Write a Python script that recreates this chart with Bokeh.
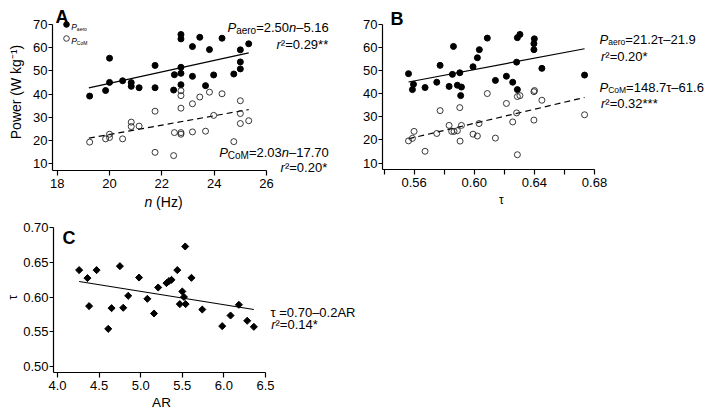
import numpy as np
from bokeh.plotting import figure
from bokeh.layouts import column, row
from bokeh.models import Label, FixedTicker, PrintfTickFormatter, Legend, LegendItem, Range1d
from bokeh.core.properties import value
from bokeh.embed import file_html
from bokeh.resources import INLINE

FONT = "Liberation Sans"

# ---------------- data ----------------
# Panel A: power vs wingbeat frequency n (Hz)
a_n_aero = [19.24, 19.85, 20.0, 20.0, 20.5, 20.83, 20.83, 21.13, 21.74, 21.74,
            22.45, 22.48, 22.73, 22.73, 22.73, 22.73, 22.73, 23.17, 23.17, 23.45,
            23.67, 23.82, 23.98, 24.3, 24.75, 25.0, 25.0, 25.0, 25.32]
a_p_aero = [39.2, 41.6, 55.5, 45.1, 45.8, 45.0, 43.4, 42.8, 52.4, 42.8,
            41.8, 48.4, 65.7, 63.8, 51.6, 49.0, 44.1, 60.5, 47.7, 64.5,
            43.7, 59.2, 48.3, 64.1, 48.7, 59.1, 53.9, 50.9, 61.7]
a_n_com = [19.24, 19.85, 20.0, 20.0, 20.5, 20.83, 20.83, 21.13, 21.74, 21.74,
           22.45, 22.48, 22.73, 22.73, 22.73, 22.73, 22.73, 23.17, 23.17, 23.45,
           23.67, 23.82, 23.98, 24.3, 24.75, 25.0, 25.0, 25.0, 25.32]
a_p_com = [19.4, 20.8, 22.8, 21.4, 20.8, 28.0, 26.1, 26.3, 32.7, 15.0,
           13.6, 23.5, 41.5, 39.4, 34.0, 23.5, 22.8, 35.9, 23.8, 38.8,
           24.1, 40.9, 30.9, 40.2, 19.6, 37.2, 31.7, 27.4, 28.6]
a_fit_n = [19.21, 25.32]
a_fit_aero = [42.7, 57.8]
a_fit_com = [21.1, 33.4]

# Panel B: power vs downstroke fraction tau
b_t_aero = [0.5563, 0.5589, 0.5596, 0.5673, 0.5751, 0.5773, 0.5833, 0.5862, 0.5855, 0.5888,
            0.5904, 0.5915, 0.591, 0.5992, 0.6021, 0.6034, 0.6087, 0.6141, 0.6214, 0.6256,
            0.6282, 0.6287, 0.6287, 0.6304, 0.6397, 0.6397, 0.64, 0.645, 0.6734]
b_p_aero = [48.7, 41.8, 44.1, 42.7, 45.0, 52.3, 43.2, 60.5, 48.4, 43.7,
            49.1, 42.9, 39.2, 51.7, 55.6, 59.1, 64.1, 45.8, 47.6, 45.0,
            53.7, 41.8, 64.3, 65.7, 59.1, 61.7, 63.8, 51.0, 48.1]
b_t_com = [0.5563, 0.5589, 0.56, 0.5673, 0.5751, 0.5773, 0.5833, 0.585, 0.5866, 0.5888,
           0.5904, 0.5906, 0.5915, 0.5992, 0.6021, 0.6032, 0.6087, 0.6141, 0.6214, 0.6256,
           0.6282, 0.6287, 0.6287, 0.6304, 0.6397, 0.6397, 0.6401, 0.645, 0.6734]
b_p_com = [19.6, 20.7, 23.7, 15.1, 22.8, 32.7, 26.3, 23.7, 23.7, 24.0,
           34.0, 19.5, 26.3, 22.5, 21.7, 27.1, 40.1, 20.8, 35.8, 27.8,
           31.7, 13.6, 38.8, 39.2, 28.6, 40.9, 41.4, 37.2, 30.9]
b_fit_t = [0.5563, 0.6734]
b_fit_aero = [45.1, 59.5]
b_fit_com = [20.5, 38.4]

# Panel C: tau vs aspect ratio AR
c_ar = [4.26, 4.36, 4.38, 4.47, 4.61, 4.65, 4.75, 4.79, 4.85, 4.98,
        5.08, 5.16, 5.21, 5.31, 5.34, 5.37, 5.44, 5.47, 5.50, 5.52,
        5.535, 5.54, 5.61, 5.74, 5.98, 6.08, 6.18, 6.28, 6.36]
c_tau = [0.6387, 0.6272, 0.5869, 0.6387, 0.5542, 0.584, 0.6444, 0.5845, 0.6017, 0.628,
         0.5974, 0.5763, 0.6137, 0.620, 0.6229, 0.6247, 0.6387, 0.5898, 0.608, 0.600,
         0.6727, 0.5898, 0.6276, 0.582, 0.5581, 0.5734, 0.5888, 0.5658, 0.5571]
c_fit_ar = [4.26, 6.36]
c_fit_tau = [0.6223, 0.582]

a_yticks = [10, 20, 30, 40, 50, 60, 70]
a_xticks = [18, 20, 22, 24, 26]
b_xticks = [0.56, 0.60, 0.64, 0.68]
b_xminor = [0.54, 0.58, 0.62, 0.66]
c_xticks = [4.0, 4.5, 5.0, 5.5, 6.0, 6.5]
c_yticks = [0.50, 0.55, 0.60, 0.65, 0.70]

# ---------------- helpers ----------------
WID = {c: 556 for c in "0123456789"}
WID.update({'.': 278, '=': 584, '–': 556, '-': 333, '*': 389, '²': 333, ' ': 278,
            '(': 333, ')': 333, 'P': 667, 'a': 556, 'e': 556, 'r': 333, 'o': 556,
            'n': 556, 'C': 722, 'M': 833, 'A': 667, 'R': 722, 'τ': 480, 'H': 722,
            'z': 500, 'W': 944, 'k': 500, 'g': 556})


def tw(s, size):
    return sum(WID.get(ch, 556) for ch in s) / 1000.0 * size


class Panel:
    """Axis box (page pixels) + axis ranges; the figure frame fills its whole canvas."""

    def __init__(self, canvas, box, xr, yr):
        self.cl, self.ct, self.cw, self.ch = canvas
        self.L, self.T, self.W, self.H = box
        self.xr, self.yr = xr, yr

    def dx(self, px):
        return self.xr[0] + (px - self.L) / self.W * (self.xr[1] - self.xr[0])

    def dy(self, py):
        return self.yr[1] - (py - self.T) / self.H * (self.yr[1] - self.yr[0])

    def full_x(self):
        return (self.dx(self.cl), self.dx(self.cl + self.cw))

    def full_y(self):
        return (self.dy(self.ct + self.ch), self.dy(self.ct))


def make_fig(pan):
    p = figure(width=pan.cw, height=pan.ch, output_backend="svg", toolbar_location=None,
               x_range=Range1d(*pan.full_x()), y_range=Range1d(*pan.full_y()),
               min_border=0, min_border_left=0, min_border_right=0,
               min_border_top=0, min_border_bottom=0)
    p.xgrid.visible = False
    p.ygrid.visible = False
    p.outline_line_color = None
    p.background_fill_color = "white"
    p.border_fill_color = "white"
    xa, ya = p.xaxis[0], p.yaxis[0]
    xa.fixed_location = pan.yr[0]
    xa.bounds = pan.xr
    ya.fixed_location = pan.xr[0]
    ya.bounds = pan.yr
    for ax in (xa, ya):
        ax.axis_line_color = "black"
        ax.axis_line_width = 1.2
        ax.major_tick_line_color = "black"
        ax.major_tick_line_width = 1.2
        ax.major_tick_in = 0
        ax.minor_tick_line_color = None
        ax.major_label_text_font = FONT
        ax.major_label_text_font_size = "13px"
        ax.major_label_text_color = "black"
    xa.major_tick_out = 5
    xa.major_label_standoff = 3
    ya.major_tick_out = 4
    ya.major_label_standoff = 1
    return p


def runs(p, pan, items, x, y, align="left"):
    total = sum(tw(t, sz) for t, st, sz, d in items)
    if align == "right":
        x0 = x - total
    elif align == "center":
        x0 = x - total / 2
    else:
        x0 = x
    cx = x0
    for t, st, sz, d in items:
        lead = len(t) - len(t.lstrip(" "))
        shown = t.lstrip(" ")
        p.add_layout(Label(x=pan.dx(cx + tw(" " * lead, sz)), y=pan.dy(y + d),
                           x_units="data", y_units="data",
                           text=shown, text_font=FONT, text_font_style=st,
                           text_font_size=f"{sz}px", text_color="black",
                           text_align="left", text_baseline="alphabetic"))
        cx += tw(t, sz)


def rot_label(p, pan, text, x, y, size):
    p.add_layout(Label(x=pan.dx(x), y=pan.dy(y), x_units="data", y_units="data",
                       text=text, text_font=FONT, text_font_size=f"{size}px",
                       text_color="black", text_align="center", text_baseline="alphabetic",
                       angle=np.pi / 2))


# ---------------- panel A ----------------
PA = Panel((0, 0, 340, 215), (52, 24, 214, 146), (17.82, 26.0), (7.19, 70.0))
pa = make_fig(PA)
pa.xaxis[0].ticker = FixedTicker(ticks=a_xticks)
pa.yaxis[0].ticker = FixedTicker(ticks=a_yticks)
pa.line(a_fit_n, a_fit_aero, line_color="black", line_width=1.2)
pa.line(a_fit_n, a_fit_com, line_color="black", line_width=1.2, line_dash="6 4")
ra1 = pa.scatter(a_n_aero, a_p_aero, marker="circle", size=6, fill_color="black", line_color="black")
ra2 = pa.scatter(a_n_com, a_p_com, marker="circle", size=6, fill_color=None, line_color="#222222",
                 line_width=0.9)
leg = Legend(items=[LegendItem(label=value(" "), renderers=[ra1]),
                    LegendItem(label=value(" "), renderers=[ra2])],
             location=(59, 170), orientation="vertical", glyph_width=14, glyph_height=14,
             label_width=0, label_height=0, label_standoff=0, padding=0, margin=0, spacing=0,
             label_text_font_size="1px", border_line_color=None, background_fill_color=None)
pa.add_layout(leg)

runs(pa, PA, [("A", "bold", 18, 0)], 55, 16.7)
runs(pa, PA, [("P", "italic", 8.5, 0), ("aero", "normal", 5, 1.6)], 70.7, 26.7)
runs(pa, PA, [("P", "italic", 8.5, 0), ("CoM", "normal", 5, 1.6)], 70.7, 40.7)
runs(pa, PA, [("P", "italic", 13, 0), ("aero", "normal", 10, 2.8), ("=2.50", "normal", 13, 0),
              ("n", "italic", 13, 0), ("–5.16", "normal", 13, 0)], 328.3, 27, "right")
runs(pa, PA, [("r", "italic", 13, 0), ("²=0.29**", "normal", 13, 0)], 327.7, 44.3, "right")
runs(pa, PA, [("P", "italic", 13, 0), ("CoM", "normal", 10, 2.8), ("=2.03", "normal", 13, 0),
              ("n", "italic", 13, 0), ("–17.70", "normal", 13, 0)], 328.3, 151.7, "right")
runs(pa, PA, [("r", "italic", 13, 0), ("²=0.20*", "normal", 13, 0)], 326.7, 166.7, "right")
runs(pa, PA, [("n", "italic", 14, 0), (" (Hz)", "normal", 14, 0)], 163, 201, "center")
rot_label(pa, PA, "Power (W kg⁻¹)", 15, 91.5, 14)

# ---------------- panel B ----------------
PB = Panel((340, 0, 371, 215), (382, 24, 212, 145), (0.539, 0.68), (7.2, 70.0))
pb = make_fig(PB)
pb.xaxis[0].ticker = FixedTicker(ticks=b_xticks, minor_ticks=b_xminor)
pb.xaxis[0].formatter = PrintfTickFormatter(format="%.2f")
pb.xaxis[0].minor_tick_line_color = "black"
pb.xaxis[0].minor_tick_line_width = 1.2
pb.xaxis[0].minor_tick_in = 0
pb.xaxis[0].minor_tick_out = 5
pb.yaxis[0].ticker = FixedTicker(ticks=a_yticks)
pb.line(b_fit_t, b_fit_aero, line_color="black", line_width=1.2)
pb.line(b_fit_t, b_fit_com, line_color="black", line_width=1.2, line_dash="6 4")
pb.scatter(b_t_aero, b_p_aero, marker="circle", size=6, fill_color="black", line_color="black")
pb.scatter(b_t_com, b_p_com, marker="circle", size=6, fill_color=None, line_color="#222222",
           line_width=0.9)
runs(pb, PB, [("B", "bold", 18, 0)], 390, 18.3)
runs(pb, PB, [("P", "italic", 13, 0), ("aero", "normal", 8.5, 2.5), ("=21.2τ–21.9", "normal", 13, 0)],
     599, 39.3)
runs(pb, PB, [("r", "italic", 13, 0), ("²=0.20*", "normal", 13, 0)], 600.5, 56)
runs(pb, PB, [("P", "italic", 13, 0), ("CoM", "normal", 8.5, 2.5), ("=148.7τ–61.6", "normal", 13, 0)],
     599, 87.3)
runs(pb, PB, [("r", "italic", 13, 0), ("²=0.32***", "normal", 13, 0)], 600.5, 103.3)
runs(pb, PB, [("τ", "normal", 12, 0)], 501.5, 199.5, "center")

# ---------------- panel C ----------------
PC = Panel((0, 215, 360, 195), (53, 227, 212, 145), (3.952, 6.5), (0.4914, 0.70))
pc = make_fig(PC)
pc.xaxis[0].ticker = FixedTicker(ticks=c_xticks)
pc.xaxis[0].formatter = PrintfTickFormatter(format="%.1f")
pc.yaxis[0].ticker = FixedTicker(ticks=c_yticks)
pc.yaxis[0].formatter = PrintfTickFormatter(format="%.2f")
pc.line(c_fit_ar, c_fit_tau, line_color="black", line_width=1.1)
pc.scatter(c_ar, c_tau, marker="square", angle=np.pi / 4, size=5, fill_color="black",
           line_color="black")
runs(pc, PC, [("C", "bold", 18, 0)], 62, 237.3)
runs(pc, PC, [("τ =0.70–0.2AR", "normal", 13, 0)], 270, 311.7)
runs(pc, PC, [("r", "italic", 13, 0), ("²=0.14*", "normal", 13, 0)], 270.7, 324)
runs(pc, PC, [("AR", "normal", 13.5, 0)], 161, 401.5, "center")
rot_label(pc, PC, "τ", 12, 297, 12)

layout = column(row(pa, pb), pc)
open("out.html", "w").write(file_html(layout, INLINE))
